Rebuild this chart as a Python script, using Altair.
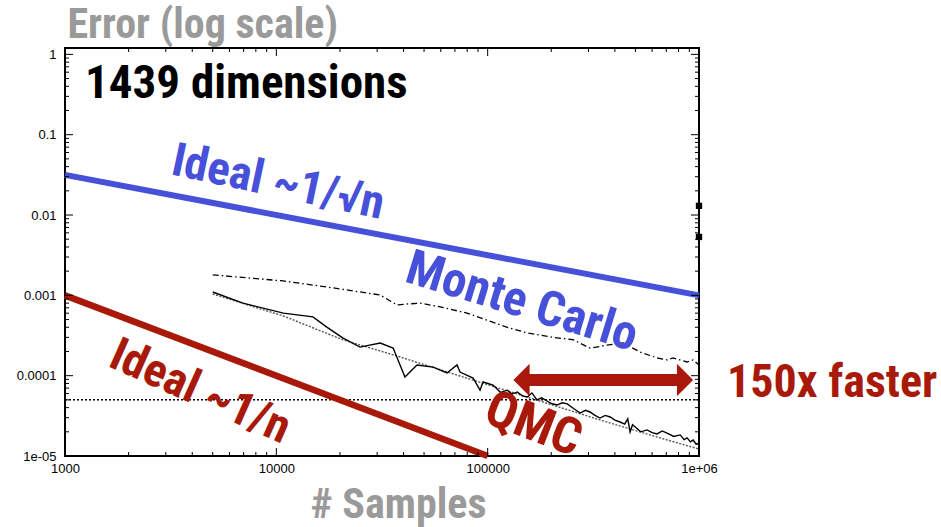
import json
import altair as alt
import pandas as pd

# ---------------- data ----------------
# Ideal reference lines
ideal_sqrt_n = [1000, 1000000]
ideal_sqrt_err = [0.0316, 0.001]
ideal_n_n = [1000, 100000]
ideal_n_err = [0.001, 0.00001]

# Monte Carlo (dash-dot curve)
mc_n = [5000, 10800, 18500, 31000, 37200, 41600, 47900, 59600, 68600, 79800,
        124000, 154000, 204000, 254000, 305000, 367000, 438000, 527000, 634000,
        706000, 753000, 879000, 937000, 1000000]
mc_err = [1.80e-3, 1.51e-3, 1.24e-3, 1.01e-3, 7.6e-4, 7.8e-4, 8.0e-4, 7.2e-4, 6.6e-4, 6.0e-4,
          4.0e-4, 3.4e-4, 3.0e-4, 2.8e-4, 2.2e-4, 2.4e-4, 2.55e-4, 1.97e-4, 1.66e-4,
          1.57e-4, 1.66e-4, 1.48e-4, 1.57e-4, 1.36e-4]

# QMC (noisy solid curve)
qmc_n = [5000, 6950, 10800, 14900, 17400, 20700, 24900, 31000, 35700, 40600,
         46300, 55200, 64200, 71600, 74000, 85300, 92000, 95100, 106000, 115000,
         124000, 130000, 138000, 146000, 154000, 162000, 171000, 180000, 191000, 200000,
         213000, 225000, 238000, 255000, 274000, 290000, 305000, 322000, 340000, 360000,
         380000, 400000, 423000, 445000, 460000, 472000, 485000, 499000, 530000, 568000,
         600000, 633000, 670000, 706000, 760000, 815000, 850000, 879000, 910000, 938000,
         970000, 1000000]
qmc_err = [1.10e-3, 8.0e-4, 6.0e-4, 5.4e-4, 4.0e-4, 2.94e-4, 2.27e-4, 2.55e-4, 2.21e-4, 9.6e-5,
           1.36e-4, 1.28e-4, 1.08e-4, 1.36e-4, 1.11e-4, 9.35e-5, 6.6e-5, 8.35e-5, 7.65e-5, 6.2e-5,
           6.6e-5, 5.9e-5, 6.27e-5, 5.6e-5, 5.43e-5, 6.1e-5, 5.0e-5, 5.3e-5, 4.84e-5, 4.5e-5,
           4.31e-5, 4.6e-5, 4.45e-5, 3.9e-5, 3.43e-5, 3.7e-5, 3.53e-5, 3.2e-5, 2.97e-5, 3.2e-5,
           3.06e-5, 2.8e-5, 2.65e-5, 2.5e-5, 2.9e-5, 1.99e-5, 2.45e-5, 2.30e-5, 2.0e-5, 2.11e-5,
           1.95e-5, 1.88e-5, 2.05e-5, 1.93e-5, 1.75e-5, 1.83e-5, 1.6e-5, 1.68e-5, 1.5e-5, 1.58e-5,
           1.4e-5, 1.45e-5]

# QMC (smooth dotted curve)
qmc2_n = [5000, 10800, 20700, 38500, 74000, 159000, 340000, 655000, 1000000]
qmc2_err = [1.04e-3, 5.53e-4, 2.79e-4, 1.71e-4, 9.9e-5, 5.27e-5, 2.81e-5, 1.68e-5, 1.22e-5]

# horizontal target error level
target_err = [5e-5]

# arrow "150x faster"
arrow_n = [150000, 800000]
arrow_err = [8.83e-5, 8.83e-5]

# stray markers on right edge
edge_n = [1000000, 1000000]
edge_err = [0.0130, 0.00534]

# axis ticks
x_ticks = [1000, 10000, 100000, 1000000]
x_tick_labels = ["1000", "10000", "100000", "1e+06"]
y_ticks = [1e-5, 1e-4, 1e-3, 1e-2, 1e-1, 1]
y_tick_labels = ["1e-05", "0.0001", "0.001", "0.01", "0.1", "1"]
x_minor = [m * d for d in [1000, 10000, 100000] for m in range(2, 10)]
y_minor = [m * d for d in [1e-5, 1e-4, 1e-3, 1e-2, 1e-1] for m in range(2, 10)]

# ---------------- style ----------------
W, H = 634, 408
FONT = "Liberation Sans Narrow, Arial Narrow, Roboto Condensed, Liberation Sans, sans-serif"
BLUE = "#4650D8"
RED = "#A8190A"
GRAY = "#9a9a9a"

xscale = alt.Scale(type="log", domain=[1000, 1000000], nice=False)
yscale = alt.Scale(type="log", domain=[1e-5, 1.2], nice=False)

xaxis = alt.Axis(
    values=x_ticks,
    labelExpr=f"{json.dumps(x_tick_labels)}[round(log(datum.value)/LN10) - 3]",
    ticks=False, domain=False, grid=False, labelFlush=False, labelOverlap=False,
    labelFont="Liberation Sans", labelFontSize=13, labelColor="black", labelPadding=6,
    title="# Samples", titleFont=FONT, titleFontSize=42, titleFontWeight="bold",
    titleColor=GRAY, titleX=333, titleY=48, titleBaseline="middle", titleAlign="center",
)
yaxis = alt.Axis(
    values=y_ticks,
    labelExpr=f"{json.dumps(y_tick_labels)}[round(log(datum.value)/LN10) + 5]",
    ticks=False, domain=False, grid=False, labelFlush=False, labelOverlap=False,
    labelFont="Liberation Sans", labelFontSize=13, labelColor="black", labelPadding=9,
    title="Error (log scale)", titleFont=FONT, titleFontSize=42, titleFontWeight="bold",
    titleColor=GRAY, titleAngle=0, titleAlign="left", titleBaseline="middle",
    titleX=2, titleY=-24,
)


def X(field):
    return alt.X(field, type="quantitative", scale=xscale, axis=xaxis)


def Y(field):
    return alt.Y(field, type="quantitative", scale=yscale, axis=yaxis)


def line(ns, errs, **mark):
    df = pd.DataFrame({"n": ns, "err": errs})
    return alt.Chart(df).mark_line(**mark).encode(x=X("n"), y=Y("err"))


layers = []

# curves
layers.append(line(mc_n, mc_err, color="black", strokeWidth=1.3, strokeDash=[6, 3, 1.5, 3]))
layers.append(line(qmc2_n, qmc2_err, color="#555555", strokeWidth=1.4, strokeDash=[2, 1.5]))
layers.append(line(qmc_n, qmc_err, color="black", strokeWidth=1.4))

# target dotted line
layers.append(
    alt.Chart(pd.DataFrame({"err": target_err, "a": [1000], "b": [1000000]}))
    .mark_rule(color="black", strokeWidth=1.5, strokeDash=[2, 2])
    .encode(x=X("a"), x2="b", y=Y("err"))
)

# ideal lines
layers.append(line(ideal_sqrt_n, ideal_sqrt_err, color=BLUE, strokeWidth=6, strokeCap="butt"))
layers.append(line(ideal_n_n, ideal_n_err, color=RED, strokeWidth=6.5, strokeCap="butt"))

# arrow
layers.append(line(arrow_n, arrow_err, color=RED, strokeWidth=12, strokeCap="butt"))
layers.append(
    alt.Chart(pd.DataFrame({"n": [144600], "err": [8.83e-5]}))
    .mark_point(shape="M 0.5 -1 L -0.5 0 L 0.5 1 Z", size=1050, filled=True, color=RED, opacity=1)
    .encode(x=X("n"), y=Y("err"))
)
layers.append(
    alt.Chart(pd.DataFrame({"n": [859000], "err": [8.83e-5]}))
    .mark_point(shape="M -0.5 -1 L 0.5 0 L -0.5 1 Z", size=1050, filled=True, color=RED, opacity=1)
    .encode(x=X("n"), y=Y("err"))
)

# stray markers at right edge
layers.append(
    alt.Chart(pd.DataFrame({"n": edge_n, "err": edge_err}))
    .mark_point(shape="square", size=40, filled=True, color="black", opacity=1)
    .encode(x=X("n"), y=Y("err"))
)

# inward ticks (all four sides)
def ticks_x(vals, length, top):
    df = pd.DataFrame({"v": vals})
    if top:
        ys = dict(y=alt.value(0), y2=alt.value(length))
    else:
        ys = dict(y=alt.value(H), y2=alt.value(H - length))
    return alt.Chart(df).mark_rule(color="black", strokeWidth=1).encode(x=X("v"), **ys)


def ticks_y(vals, length, right):
    df = pd.DataFrame({"v": vals})
    if right:
        xs = dict(x=alt.value(W), x2=alt.value(W - length))
    else:
        xs = dict(x=alt.value(0), x2=alt.value(length))
    return alt.Chart(df).mark_rule(color="black", strokeWidth=1).encode(y=Y("v"), **xs)


for top in (False, True):
    layers.append(ticks_x(x_ticks, 8, top))
    layers.append(ticks_x(x_minor, 4, top))
for right in (False, True):
    layers.append(ticks_y(y_ticks, 8, right))
    layers.append(ticks_y(y_minor, 4, right))


# annotations
def label(text, x, y, color, size, angle=0, align="center"):
    return (
        alt.Chart(pd.DataFrame({"t": [text]}))
        .mark_text(font=FONT, fontSize=size, fontWeight="bold", color=color,
                   angle=angle, align=align, baseline="middle")
        .encode(
            x=alt.XDatum(x, type="quantitative"),
            y=alt.YDatum(y, type="quantitative"),
            text="t:N",
        )
    )


layers.append(label("1439 dimensions", 1244, 0.43, "black", 47, align="left"))
layers.append(label("Ideal ~1/√n", 10190, 0.0251, BLUE, 47, angle=12))
layers.append(label("Monte Carlo", 145500, 8.27e-4, BLUE, 49, angle=17))
layers.append(label("Ideal ~1/n", 4355, 6.27e-5, RED, 47, angle=24))
layers.append(label("QMC", 164000, 2.43e-5, RED, 51, angle=21))
layers.append(label("150x faster", 1358000, 8.11e-5, RED, 46, align="left"))

chart = (
    alt.layer(*layers)
    .properties(
        width=W, height=H,
        autosize=alt.AutoSizeParams(type="none"),
        padding={"left": 65, "top": 48, "right": 242, "bottom": 71},
        background="white",
    )
    .configure_view(stroke="black", strokeWidth=2)
)

chart.save("out.html", embed_options={"renderer": "svg", "actions": False})
